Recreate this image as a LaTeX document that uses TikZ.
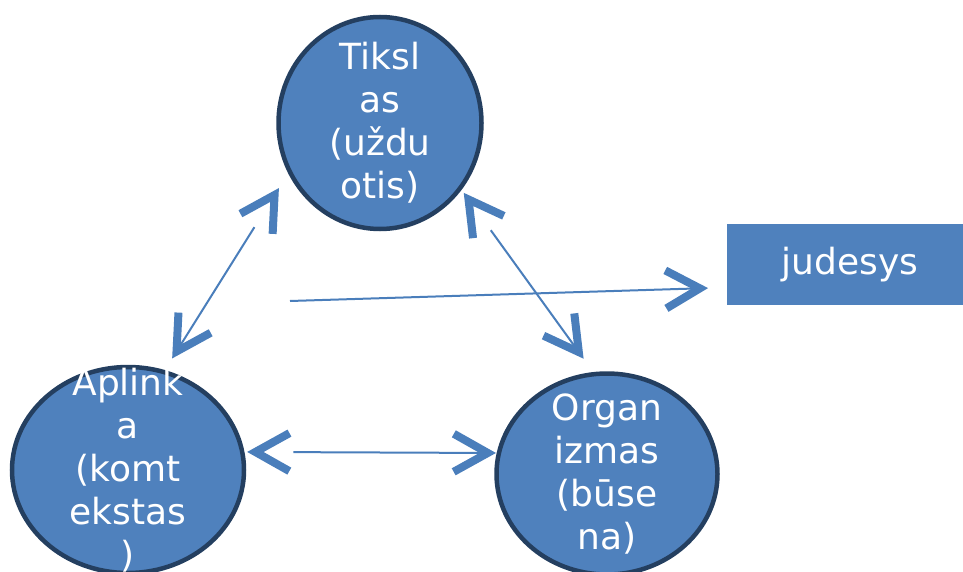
\documentclass[tikz,border=0pt]{standalone}
\usepackage{fontspec}
\setmainfont{DejaVu Sans}
\usetikzlibrary{arrows.meta,shapes.geometric}
\definecolor{nodefill}{HTML}{4F81BD}
\definecolor{nodeline}{HTML}{243F60}
\definecolor{arrowblue}{HTML}{4A7EBB}
\begin{document}
\begin{tikzpicture}[x=1pt,y=-1pt,
 chev/.tip={Straight Barb[length=34pt,width=38pt,line width=8pt]},
 bub/.style={ellipse,draw=nodeline,line width=4.5pt,fill=nodefill,inner sep=0pt,outer sep=0pt},
 txt/.style={text=white,align=center,inner sep=0pt,font=\fontsize{36}{43}\selectfont},
 link/.style={draw=arrowblue,line width=2pt,{chev[] .}-{chev[] .}},
 onelink/.style={draw=arrowblue,line width=2pt,-{chev[] .}}]
\useasboundingbox (0,0) rectangle (963,572);
% the three bubbles
\node[bub,minimum width=203pt,minimum height=212pt] (tiksl) at (380,123) {};
\node[bub,minimum width=232pt,minimum height=206pt] (aplinka) at (128,470) {};
\node[bub,minimum width=221pt,minimum height=201pt] (organizmas) at (607,474) {};
\node[txt] (tiksl-t) at (tiksl) {Tiksl\\as\\(uždu\\otis)};
\node[txt] (aplinka-t) at (aplinka) {Aplink\\a\\(komt\\ekstas\\)};
\node[txt] (organizmas-t) at (organizmas) {Organ\\izmas\\(būse\\na)};
% result box
\node[fill=nodefill,minimum width=236pt,minimum height=81pt,inner sep=0pt,outer sep=0pt,
 text=white,font=\fontsize{36}{43}\selectfont] (judesys) at (845,264.5) {\hspace{10pt}judesys};
% connectors
\draw[link,shorten <=20pt,shorten >=16pt] (tiksl.208) -- (aplinka.70);
\draw[link,shorten <=6pt,shorten >=19pt] (tiksl.321) -- (organizmas.97);
\draw[link,shorten <=5pt,shorten >=3pt] (aplinka.9) -- (organizmas.169);
\coordinate (mstart) at (290,301);
\draw[onelink,shorten >=19pt] (mstart) -- ([yshift=-23pt]judesys.west);
\end{tikzpicture}
\end{document}
